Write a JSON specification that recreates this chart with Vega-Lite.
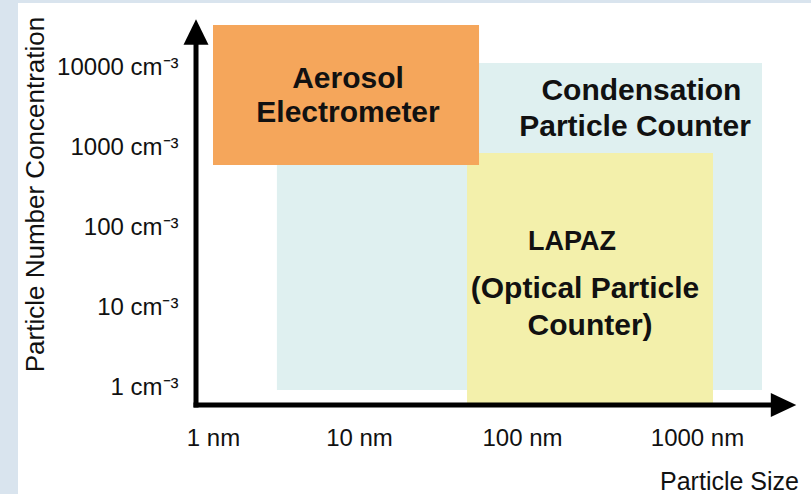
{
  "$schema": "https://vega.github.io/schema/vega-lite/v6.json",
  "width": 793,
  "height": 491,
  "autosize": {"type": "none"},
  "padding": {"left": 18, "top": 3, "right": 0, "bottom": 0},
  "background": "#d9e4ee",
  "config": {"view": {"fill": "#ffffff", "stroke": null}, "font": "Liberation Sans"},
  "datasets": {
    "boxes": [
      {"instrument": "Condensation Particle Counter", "x": 2.74, "x2": 2350, "y": 0.944, "y2": 11550},
      {"instrument": "LAPAZ (Optical Particle Counter)", "x": 46, "x2": 1234, "y": 0.613, "y2": 866},
      {"instrument": "Aerosol Electrometer", "x": 1, "x2": 54.5, "y": 613, "y2": 34470}
    ],
    "axislines": [
      {"axis": "size", "x": 0.765, "x2": 2790, "y": 0.613, "y2": 0.613},
      {"axis": "concentration", "x": 0.765, "x2": 0.765, "y": 0.613, "y2": 22387}
    ],
    "arrows": [
      {"dir": "up", "x": 0.765, "y": 28180},
      {"dir": "right", "x": 3120, "y": 0.613}
    ],
    "labels": [
      {"text": "Aerosol", "x": 8.41, "y": 5623},
      {"text": "Electrometer", "x": 8.41, "y": 2113},
      {"text": "Condensation", "x": 481.5, "y": 3981},
      {"text": "Particle Counter", "x": 442.6, "y": 1413},
      {"text": "LAPAZ", "x": 193, "y": 53.1},
      {"text": "(Optical Particle", "x": 229, "y": 13.3},
      {"text": "Counter)", "x": 245, "y": 4.6}
    ]
  },
  "encoding": {
    "x": {
      "field": "x",
      "type": "quantitative",
      "scale": {
        "type": "log",
        "domain": [0.0462, 1, 10, 100, 1000, 4477],
        "range": [0, 195, 341, 504, 679, 793],
        "nice": false
      },
      "axis": {
        "values": [1, 10, 100, 1000],
        "labelExpr": "format(datum.value, 'd') + ' nm'",
        "domain": false,
        "ticks": false,
        "tickSize": 0,
        "grid": false,
        "offset": -56,
        "labelPadding": 0,
        "labelBaseline": "middle",
        "labelAlign": "center",
        "labelFontSize": 24,
        "labelFont": "Liberation Sans",
        "labelColor": "#111111",
        "labelFlush": false,
        "labelOverlap": false,
        "title": "Particle Size",
        "titleX": 711,
        "titleY": 51,
        "titleAlign": "center",
        "titleBaseline": "alphabetic",
        "titleFontSize": 25,
        "titleFont": "Liberation Sans",
        "titleFontWeight": "normal",
        "titleColor": "#111111"
      }
    },
    "y": {
      "field": "y",
      "type": "quantitative",
      "scale": {"type": "log", "domain": [0.0473, 64940], "nice": false},
      "axis": {
        "values": [1, 10, 100, 1000, 10000],
        "labelExpr": "format(datum.value, 'd') + ' cm⁻³'",
        "domain": false,
        "ticks": false,
        "tickSize": 0,
        "grid": false,
        "offset": -160,
        "labelPadding": 0,
        "labelBaseline": "middle",
        "labelFontSize": 24,
        "labelFont": "Liberation Sans",
        "labelColor": "#111111",
        "labelFlush": false,
        "labelOverlap": false,
        "title": "Particle Number Concentration",
        "titleAngle": -90,
        "titleX": -135,
        "titleY": 191,
        "titleAlign": "center",
        "titleBaseline": "alphabetic",
        "titleFontSize": 26,
        "titleFont": "Liberation Sans",
        "titleFontWeight": "normal",
        "titleColor": "#111111"
      }
    }
  },
  "layer": [
    {
      "data": {"name": "boxes"},
      "mark": {"type": "rect"},
      "encoding": {
        "x2": {"field": "x2"},
        "y2": {"field": "y2"},
        "color": {
          "field": "instrument",
          "type": "nominal",
          "scale": {
            "domain": ["Condensation Particle Counter", "LAPAZ (Optical Particle Counter)", "Aerosol Electrometer"],
            "range": ["#dff0f0", "#f3f0ab", "#f5a65b"]
          },
          "legend": null
        }
      }
    },
    {
      "data": {"name": "axislines"},
      "mark": {"type": "rule", "color": "#000000", "strokeWidth": 5, "strokeCap": "square"},
      "encoding": {
        "x2": {"field": "x2"},
        "y2": {"field": "y2"}
      }
    },
    {
      "data": {"name": "arrows"},
      "mark": {"type": "point", "filled": true, "color": "#000000", "opacity": 1, "size": 650},
      "encoding": {
        "shape": {
          "field": "dir",
          "type": "nominal",
          "scale": {
            "domain": ["up", "right"],
            "range": ["M0,-1L-0.98,1L0.98,1Z", "M1,0L-1,-0.94L-1,0.94Z"]
          },
          "legend": null
        }
      }
    },
    {
      "data": {"name": "labels"},
      "mark": {
        "type": "text",
        "font": "Liberation Sans",
        "fontWeight": "bold",
        "align": "center",
        "baseline": "alphabetic",
        "color": "#111111"
      },
      "encoding": {
        "text": {"field": "text"},
        "size": {"condition": {"test": "datum.text === 'LAPAZ'", "value": 27}, "value": 30}
      }
    }
  ]
}
